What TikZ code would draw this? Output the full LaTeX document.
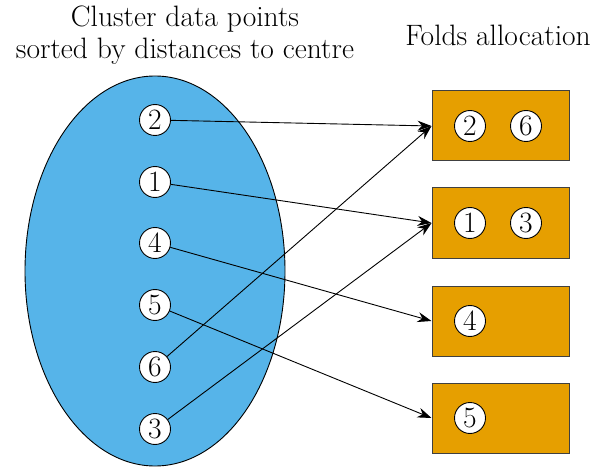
\documentclass[tikz,border=0pt]{standalone}
\usetikzlibrary{arrows.meta,shapes.geometric}
\definecolor{skyblue}{HTML}{56B4E9}
\definecolor{foldorange}{HTML}{E69F00}
\begin{document}
\begin{tikzpicture}[x=1pt,y=-1pt,
  pt/.style={circle,draw,fill=white,minimum size=31pt,inner sep=0pt,line width=0.9pt,font=\fontsize{29.5}{32}\selectfont},
  fold/.style={draw=black!75,fill=foldorange,minimum width=137pt,minimum height=70pt,inner sep=0pt,line width=1pt},
  link/.style={-{Stealth[length=14pt,width=10pt]},line width=0.9pt},
  title/.style={font=\fontsize{29.5}{32.5}\selectfont,align=center}]
\useasboundingbox (0,0) rectangle (595,468);
% cluster
\node[ellipse,draw,fill=skyblue,line width=0.9pt,minimum width=260pt,minimum height=390pt,inner sep=0pt] (cl) at (155,271) {};
\node[title] (t1) at (185,35) {Cluster data points\\sorted by distances to centre};
\node[title] (t2) at (498,35) {Folds allocation};
% points
\node[pt] (p2) at (155,120) {2};
\node[pt] (p1) at (155,182) {1};
\node[pt] (p4) at (155,243) {4};
\node[pt] (p5) at (155,305) {5};
\node[pt] (p6) at (155,367) {6};
\node[pt] (p3) at (155,429) {3};
% folds
\node[fold] (f1) at (500.5,126) {};
\node[fold] (f2) at (500.5,223) {};
\node[fold] (f3) at (500.5,321) {};
\node[fold] (f4) at (500.5,418) {};
\node[pt] (a2) at (470,126) {2};
\node[pt] (a6) at (526,126) {6};
\node[pt] (a1) at (470,223) {1};
\node[pt] (a3) at (526,223) {3};
\node[pt] (a4) at (470,321) {4};
\node[pt] (a5) at (470,418) {5};
% allocation
\draw[link] (p2) -- (f1.west);
\draw[link] (p1) -- (f2.west);
\draw[link] (p4) -- (f3.west);
\draw[link] (p5) -- (f4.west);
\draw[link] (p6) -- (f1.west);
\draw[link] (p3) -- (f2.west);
\end{tikzpicture}
\end{document}
